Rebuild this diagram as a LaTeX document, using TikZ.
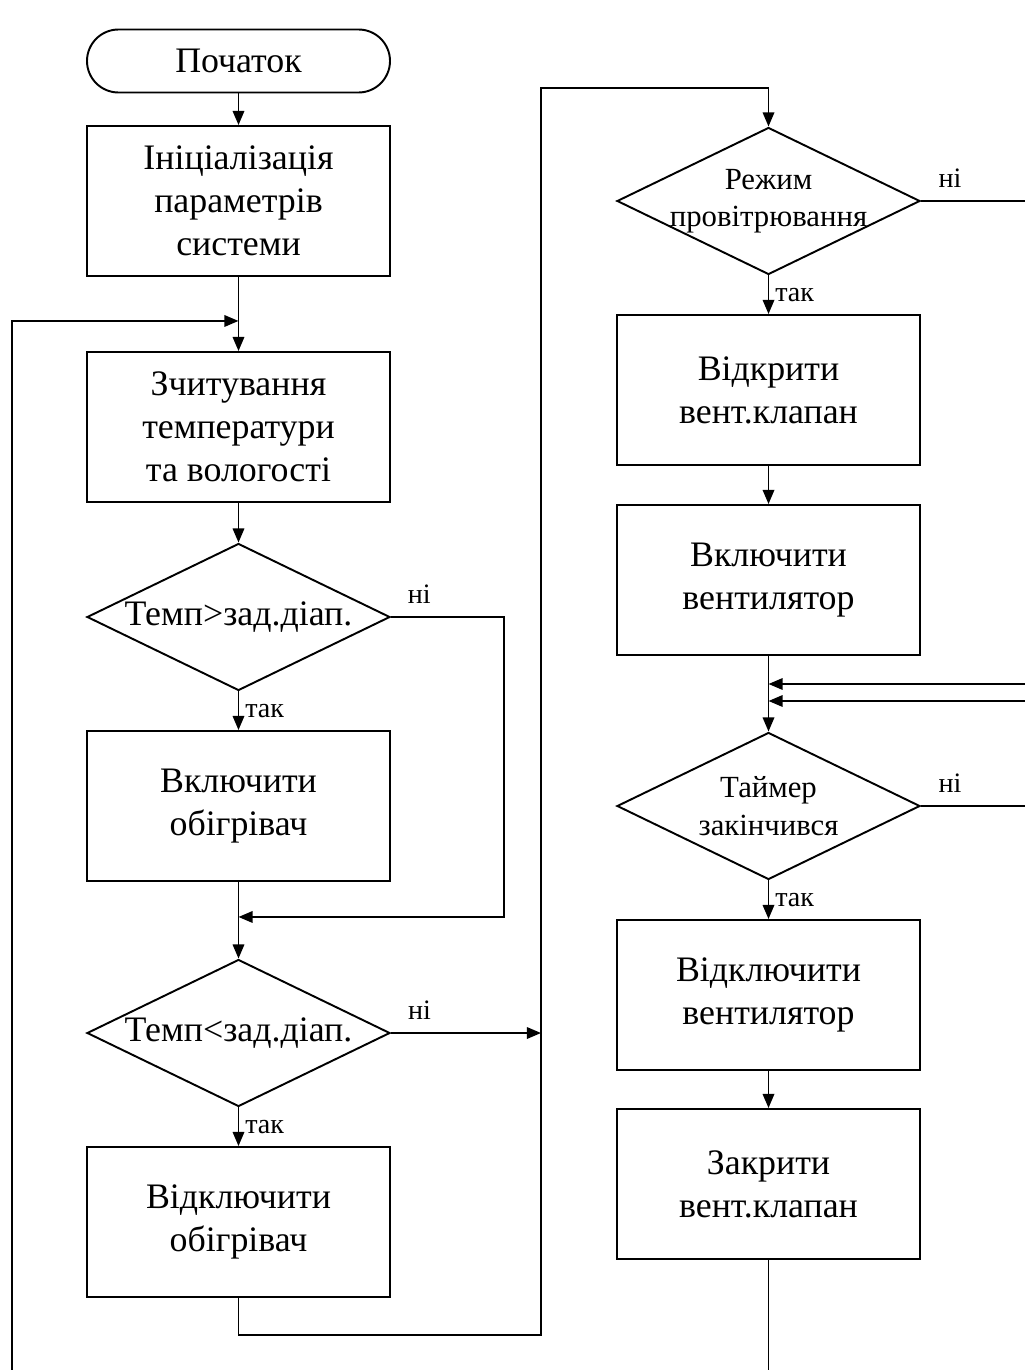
\documentclass[tikz,border=0pt]{standalone}
\usepackage{fontspec}
\setmainfont{Liberation Serif}
\usetikzlibrary{arrows.meta, positioning, shapes.geometric}

\begin{document}
\begin{tikzpicture}[
        node distance = 3.8cm, on grid, line width = 1.1pt,
        >= {Triangle[length = 8pt, width = 6.5pt]},
        process/.style = {draw, minimum width = 6.06cm, minimum height = 3cm, align = center, font = \fontsize{20.4}{24.5}\selectfont},
        terminal/.style = {process, minimum height = 1.26cm, rounded corners = 0.63cm},
        decision/.style = {draw, diamond, minimum width = 6.06cm, minimum height = 2.94cm},
        bigtext/.style = {align = center, font = \fontsize{20.4}{24.5}\selectfont},
        smalltext/.style = {align = center, font = \fontsize{17.5}{21.3}\selectfont},
        answer/.style = {font = \fontsize{16}{19}\selectfont}
    ]
      \useasboundingbox (0, 0) rectangle (20.5, -27.4);

      % left column
      \node[terminal] (start) at (4.77, -1.22) {Початок};
      \node[process, below = 2.8cm of start] (init) {Ініціалізація\\параметрів\\системи};
      \node[process, below = 4.52cm of init] (read) {Зчитування\\температури\\та вологості};
      \node[decision, below = of read, label = {[bigtext]center:Темп>зад.діап.}] (tover) {};
      \node[process, below = 3.78cm of tover] (heaton) {Включити\\обігрівач};
      \node[decision, below = 4.54cm of heaton, label = {[bigtext]center:Темп<зад.діап.}] (tunder) {};
      \node[process, below = 3.78cm of tunder] (heatoff) {Відключити\\обігрівач};

      % right column
      \node[decision, right = 10.6cm of init, label = {[smalltext]center:Режим\\провітрювання}] (airmode) {};
      \node[process, below = 3.78cm of airmode] (valveopen) {Відкрити\\вент.клапан};
      \node[process, below = of valveopen] (fanon) {Включити\\вентилятор};
      \node[decision, below = 4.52cm of fanon, label = {[smalltext]center:Таймер\\закінчився}] (timer) {};
      \node[process, below = 3.78cm of timer] (fanoff) {Відключити\\вентилятор};
      \node[process, below = 3.78cm of fanoff] (valveclose) {Закрити\\вент.клапан};

      \coordinate (join1) at ([yshift = -0.88cm] init.south);
      \coordinate (join2) at ([yshift = -0.7cm] heaton.south);
      \coordinate (loopend) at (0.24, -27.4);
      \coordinate (bustop) at (10.82, -1.76);
      \coordinate (busbot) at (10.82, -26.7);
      \coordinate (edge) at (20.5, -27.4);
      \coordinate (ret1) at (20.5, -13.68);
      \coordinate (ret2) at (20.5, -14.02);

      \draw[->] (start) -- (init);
      \draw[->] (init) -- (read);
      \draw[->] (loopend) |- (join1);
      \draw[->] (read) -- (tover);
      \draw[->] (tover) -- node[answer, right] {так} (heaton);
      \draw[->] (tover.east) -- node[answer, above, yshift = 4pt, pos = 0.25] {ні} ++(2.26, 0) |- (join2);
      \draw[->] (heaton) -- (tunder);
      \draw[->] (tunder) -- node[answer, right] {так} (heatoff);
      \draw[->] (tunder.east) -- node[answer, above, yshift = 4pt, pos = 0.19] {ні} (tunder.east -| bustop);
      \draw[->] (heatoff.south) |- (busbot) -- (bustop) -| (airmode.north);

      \draw (airmode.east) -- node[answer, above, yshift = 4pt, pos = 0.28] {ні} (airmode.east -| edge);
      \draw[->] (airmode) -- node[answer, right] {так} (valveopen);
      \draw[->] (valveopen) -- (fanon);
      \draw[->] (fanon) -- (timer);
      \draw[->] (ret1) -- (ret1 -| timer.north);
      \draw[->] (ret2) -- (ret2 -| timer.north);
      \draw (timer.east) -- node[answer, above, yshift = 4pt, pos = 0.28] {ні} (timer.east -| edge);
      \draw[->] (timer) -- node[answer, right] {так} (fanoff);
      \draw[->] (fanoff) -- (valveclose);
      \draw (valveclose) -- (valveclose |- edge);
    \end{tikzpicture}
\end{document}
